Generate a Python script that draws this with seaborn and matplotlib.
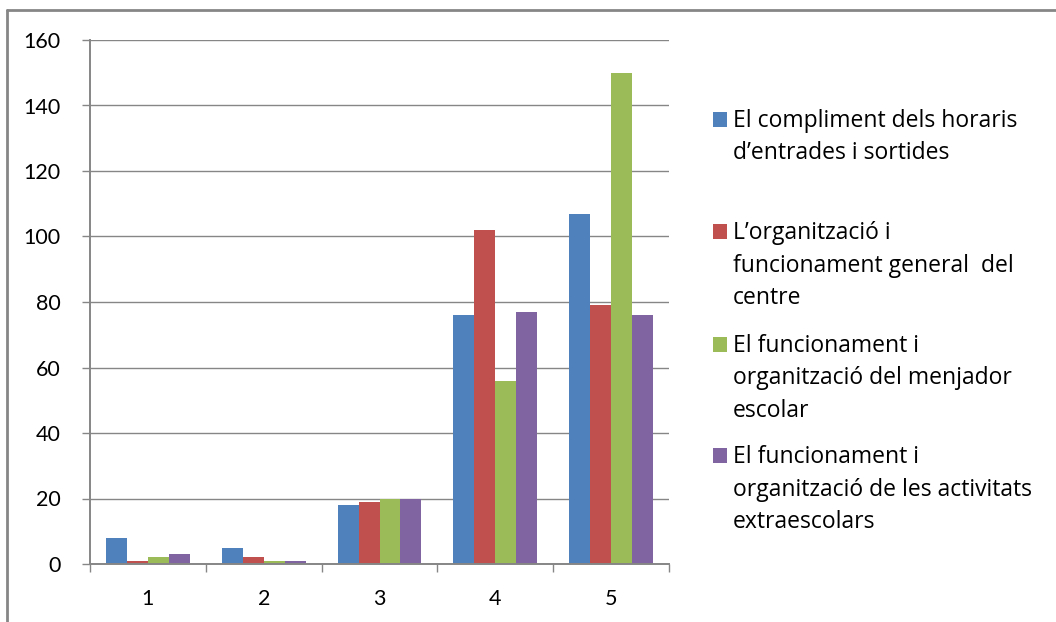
import matplotlib
matplotlib.use("Agg")
import matplotlib.pyplot as plt
from matplotlib.lines import Line2D
from matplotlib.patches import Rectangle
from matplotlib.ticker import MultipleLocator, FixedLocator
import pandas as pd
import seaborn as sns

# data
ratings = ["1", "2", "3", "4", "5"]
series = [
    "El compliment dels horaris\nd\u2019entrades i sortides",
    "L\u2019organització i\nfuncionament general  del\ncentre",
    "El funcionament i\norganització del menjador\nescolar",
    "El funcionament i\norganització de les activitats\nextraescolars",
]
horaris = [8, 5, 18, 76, 107]
organitzacio = [1, 2, 19, 102, 79]
menjador = [2, 1, 20, 56, 150]
extraescolars = [3, 1, 20, 77, 76]
colors = ["#4F81BD", "#C0504D", "#9BBB59", "#8064A2"]

rows = []
for name, vals in zip(series, [horaris, organitzacio, menjador, extraescolars]):
    for r, v in zip(ratings, vals):
        rows.append({"rating": r, "series": name, "value": v})
df = pd.DataFrame(rows)

sns.set_style("white")
plt.rcParams["font.family"] = ["Lato", "DejaVu Sans"]
grey = "#868686"

W, H = 1056, 622
fig = plt.figure(figsize=(W / 100, H / 100), dpi=100)
ax = fig.add_axes([90 / W, 1 - 564 / H, (669 - 90) / W, (564 - 40) / H])

sns.barplot(data=df, x="rating", y="value", hue="series", palette=colors,
            width=0.725, saturation=1, linewidth=0, legend=False, ax=ax)

ax.set_xlim(-0.5, 4.5)
ax.set_ylim(0, 160)
ax.yaxis.set_major_locator(MultipleLocator(20))
ax.grid(axis="y", color=grey, linewidth=1.0)
ax.set_axisbelow(True)
ax.set_xlabel("")
ax.set_ylabel("")

for side in ["top", "right"]:
    ax.spines[side].set_visible(False)
for side in ["left", "bottom"]:
    ax.spines[side].set_color(grey)
    ax.spines[side].set_linewidth(1.4)

ax.tick_params(axis="y", length=6, width=1, color=grey, pad=15,
               labelsize=15.5, labelcolor="black", left=True)
ax.tick_params(axis="x", which="major", length=0, pad=18,
               labelsize=15.5, labelcolor="black")
ax.xaxis.set_minor_locator(FixedLocator([-0.5, 0.5, 1.5, 2.5, 3.5, 4.5]))
ax.tick_params(axis="x", which="minor", length=6, width=1, color=grey,
               bottom=True)

# legend drawn by hand: entries line up with the first text line
first_base = [127, 239, 352, 463]
line_gap = 32.5
for name, col, base in zip(series, colors, first_base):
    fig.add_artist(Rectangle((713 / W, 1 - base / H), 14 / W, 15 / H,
                             transform=fig.transFigure, facecolor=col,
                             edgecolor="none"))
    for i, line in enumerate(name.split("\n")):
        fig.text(733 / W, 1 - (base + i * line_gap) / H, line,
                 fontsize=16.5, family=["Open Sans", "DejaVu Sans"],
                 va="baseline", ha="left", color="black")

# outer chart frame (left and top edges visible)
fig.add_artist(Line2D([7 / W, 7 / W], [0, 1 - 10 / H], color=grey,
                      linewidth=2, transform=fig.transFigure))
fig.add_artist(Line2D([7 / W, 1], [1 - 10 / H, 1 - 10 / H], color=grey,
                      linewidth=2, transform=fig.transFigure))

fig.savefig("out.png", dpi=100)
